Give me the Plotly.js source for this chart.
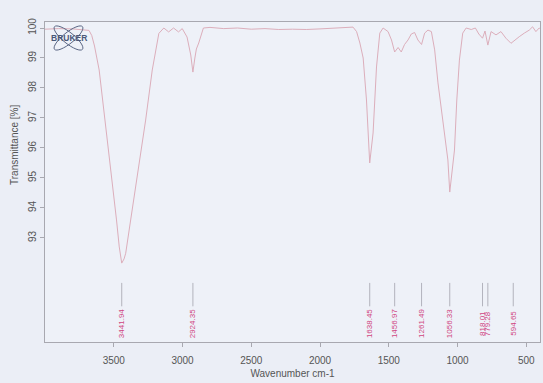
<!DOCTYPE html>
<html>
<head>
<meta charset="utf-8">
<script src="https://cdn.plot.ly/plotly-3.0.1.min.js"></script>
<style>
  html, body { margin: 0; padding: 0; background: #ebeef6; }
  #chart { width: 543px; height: 383px; }
</style>
</head>
<body>
<div id="chart"></div>
<script>
// IR spectrum: wavenumber (cm-1) and transmittance (%)
var wavenumber = [
  4000, 3900, 3800, 3720, 3680, 3660, 3640, 3606, 3563, 3522, 3480, 3460,
  3441.94, 3425, 3413, 3377, 3321, 3268, 3220, 3190, 3172, 3136, 3101, 3065,
  3029, 3002, 2967, 2940, 2924.35, 2910, 2899, 2882, 2865, 2848, 2800, 2700,
  2600, 2500, 2400, 2300, 2200, 2100, 2000, 1900, 1800, 1760, 1734, 1710,
  1686, 1662, 1638.45, 1614, 1589, 1565, 1541, 1505, 1480, 1456.97, 1432, 1409,
  1385, 1360, 1336, 1312, 1288, 1261.49, 1239, 1215, 1190, 1166, 1142, 1118,
  1094, 1070, 1056.33, 1040, 1022, 1005, 986, 962, 937, 900, 870, 845,
  818.01, 800, 779.28, 756, 720, 684, 648, 611, 594.65, 570, 551, 514,
  478, 454, 430, 406, 400
];
var transmittance = [
  99.96, 99.98, 99.97, 99.95, 99.92, 99.75, 99.4, 98.6, 96.93, 95.27, 93.6, 92.7,
  92.16, 92.3, 92.49, 93.6, 95.27, 96.93, 98.6, 99.4, 99.82, 100.0, 99.87, 100.0,
  99.87, 99.98, 99.7, 99.1, 98.53, 99.0, 99.3, 99.5, 99.75, 100.0, 100.02, 99.98,
  100.0, 99.96, 99.98, 99.95, 99.96, 99.95, 99.97, 99.99, 100.0, 100.03, 99.88, 99.5,
  99.0, 97.6, 95.5, 96.5, 98.7, 99.83, 100.0, 99.88, 99.6, 99.2, 99.35, 99.2,
  99.45, 99.6, 99.8, 99.85, 99.6, 99.45, 99.83, 99.93, 99.88, 99.27, 98.17, 97.27,
  96.5, 95.6, 94.53, 95.2, 95.93, 97.6, 98.93, 99.83, 100.0, 99.95, 100.0, 99.8,
  99.66, 99.9, 99.43, 99.88, 99.77, 99.88, 99.66, 99.49, 99.55, 99.66, 99.71, 99.83,
  99.93, 100.04, 99.88, 100.0, 99.98
];

// Picked peak positions (cm-1)
var peaks = [3441.94, 2924.35, 1638.45, 1456.97, 1261.49, 1056.33, 818.01, 779.28, 594.65];

// Axis ticks
var xTicks = [3500, 3000, 2500, 2000, 1500, 1000, 500];
var yTicks = [93, 94, 95, 96, 97, 98, 99, 100];

var FONT = 'Liberation Sans, Arial, sans-serif';
var W = 543, H = 383;
var M = {l: 45, r: 3, t: 22, b: 41};
var PW = W - M.l - M.r, PH = H - M.t - M.b;

// marker stems for the peak picks
var stemX = [], stemY = [];
peaks.forEach(function (p) {
  stemX.push(p, p, null);
  stemY.push(91.5, 90.72, null);
});

var traces = [
  {
    x: wavenumber, y: transmittance, type: 'scatter', mode: 'lines',
    line: {color: '#dcaebb', width: 1}, hoverinfo: 'skip', showlegend: false
  },
  {
    x: stemX, y: stemY, type: 'scatter', mode: 'lines',
    line: {color: '#a3a3ad', width: 0.8}, hoverinfo: 'skip', showlegend: false
  }
];

var annotations = peaks.map(function (p) {
  return {
    x: p, y: 90.15, xref: 'x', yref: 'y', text: p.toFixed(2), showarrow: false,
    textangle: -90, xanchor: 'center', yanchor: 'middle',
    font: {family: FONT, size: 8, color: '#d0457f'}
  };
});

function px2paper(x, y) { return [(x - M.l) / PW, (M.t + PH - y) / PH]; }

// y-axis title, placed beside the labelled tick range
annotations.push({
  x: px2paper(15, 0)[0], y: 96.1, xref: 'paper', yref: 'y', text: 'Transmittance [%]',
  showarrow: false, textangle: -90, xanchor: 'center', yanchor: 'middle',
  font: {family: FONT, size: 10, color: '#555'}
});

// logo lettering
var lc = px2paper(68.5, 38);
annotations.push({
  x: lc[0], y: lc[1], xref: 'paper', yref: 'paper', text: '<b>BRUKER</b>', showarrow: false,
  xanchor: 'center', yanchor: 'middle',
  font: {family: FONT, size: 8.5, color: '#4b5878'}
});

// crossed orbit loops of the logo, as cubic-bezier ellipses
function ellipsePath(cx, cy, a, b, ang) {
  var k = 0.5523, c = Math.cos(ang), s = Math.sin(ang);
  function pt(u, v) { var q = px2paper(cx + u * c - v * s, cy + u * s + v * c); return q[0] + ',' + q[1]; }
  return 'M' + pt(a, 0) +
    ' C' + pt(a, k * b) + ' ' + pt(k * a, b) + ' ' + pt(0, b) +
    ' C' + pt(-k * a, b) + ' ' + pt(-a, k * b) + ' ' + pt(-a, 0) +
    ' C' + pt(-a, -k * b) + ' ' + pt(-k * a, -b) + ' ' + pt(0, -b) +
    ' C' + pt(k * a, -b) + ' ' + pt(a, -k * b) + ' ' + pt(a, 0) + ' Z';
}
var shapes = [
  {type: 'path', xref: 'paper', yref: 'paper', path: ellipsePath(68.5, 38, 18, 5.5, 0.68),
   line: {color: '#5a6684', width: 1}},
  {type: 'path', xref: 'paper', yref: 'paper', path: ellipsePath(68.5, 38, 18, 5.5, -0.68),
   line: {color: '#5a6684', width: 1}}
];

var layout = {
  width: W, height: H,
  margin: M,
  paper_bgcolor: '#ebeef6',
  plot_bgcolor: '#eef1f8',
  font: {family: FONT, color: '#555'},
  showlegend: false,
  xaxis: {
    range: [4000, 400], tickvals: xTicks, ticktext: xTicks.map(String),
    ticks: 'outside', ticklen: 4, tickcolor: '#a8a8b0', tickwidth: 1,
    ticklabelstandoff: 5,
    showline: true, linecolor: '#a8a8b0', linewidth: 1, mirror: true,
    showgrid: false, zeroline: false,
    tickfont: {family: FONT, size: 10, color: '#555'},
    title: {text: 'Wavenumber cm-1', font: {family: FONT, size: 10, color: '#555'}, standoff: 4}
  },
  yaxis: {
    range: [89.53, 100.2], tickvals: yTicks, ticktext: yTicks.map(String),
    tickangle: -90,
    ticks: 'outside', ticklen: 4, tickcolor: '#a8a8b0', tickwidth: 1,
    showline: true, linecolor: '#a8a8b0', linewidth: 1, mirror: true,
    showgrid: false, zeroline: false,
    tickfont: {family: FONT, size: 10, color: '#555'}
  },
  annotations: annotations,
  shapes: shapes
};

Plotly.newPlot('chart', traces, layout, {staticPlot: true, displayModeBar: false});
</script>
</body>
</html>
